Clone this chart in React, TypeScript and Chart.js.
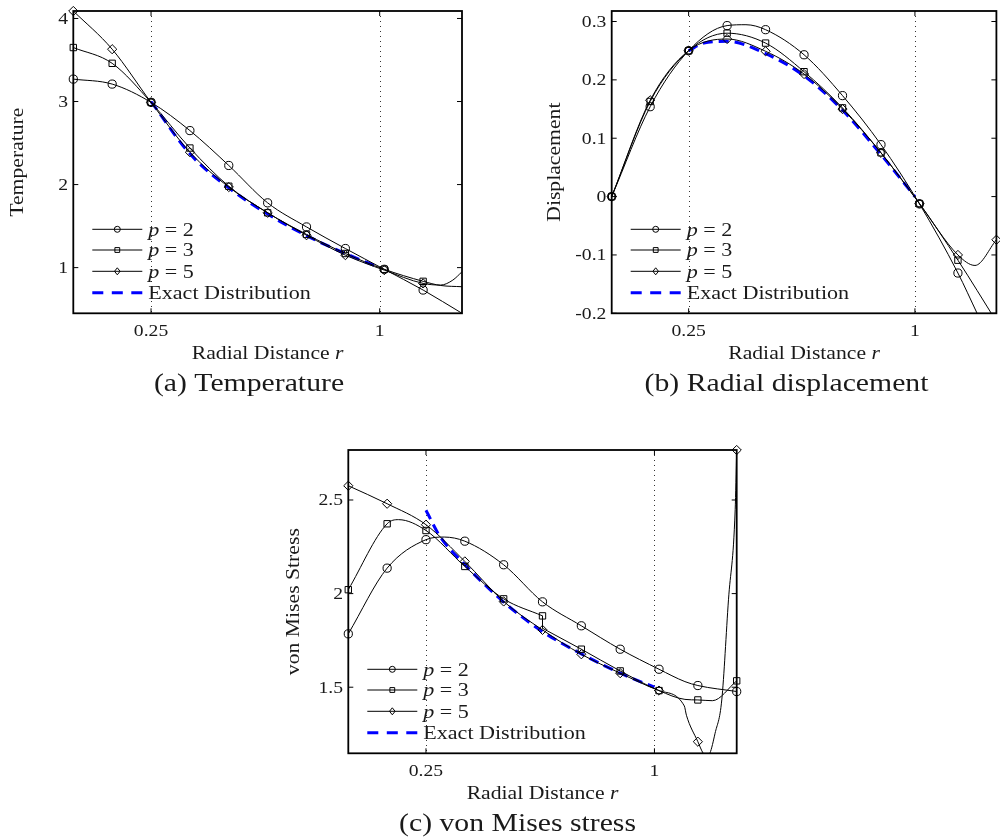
import React, { useEffect, useRef } from 'react';
import { Chart, registerables } from 'chart.js';

Chart.register(...registerables);

const FONT = "'Liberation Serif', 'Times New Roman', serif";
const INK = '#000000';
const TEXT_INK = '#1a1a1a';
const EXACT_BLUE = '#0000ff';

// x axis (radial distance)
const X_MIN = -0.005;
const X_MAX = 1.27;
const X_TICKS = [0.25, 1];
const X_TICK_LABELS = ['0.25', '1'];
// radial positions of the plotted markers
const R_MARK = [-0.005, 0.1225, 0.25, 0.3775, 0.505, 0.6325, 0.76, 0.8875, 1.015, 1.1425, 1.27];

const LEGEND_LABELS = ['p = 2', 'p = 3', 'p = 5', 'Exact Distribution'];

// (a) Temperature
const TEMP_Y_TICKS = [1, 2, 3, 4];
const TEMP_P2 = [3.27, 3.21, 2.99, 2.65, 2.23, 1.78, 1.49, 1.23, 0.98, 0.73];
const TEMP_P2_EXTRA = [[1.27, 0.45]];
const TEMP_P3 = [3.65, 3.46, 2.99, 2.44, 1.98, 1.66, 1.4, 1.17, 0.98, 0.835];
const TEMP_P3_EXTRA = [[1.2, 0.785], [1.27, 0.77]];
const TEMP_P5 = [4.09, 3.63, 2.99, 2.39, 1.97, 1.66, 1.39, 1.15, 0.97, 0.81];
const TEMP_P5_EXTRA = [[1.2, 0.79], [1.24, 0.85], [1.27, 0.95]];
const TEMP_EXACT_R = [0.25, 0.3775, 0.505, 0.6325, 0.76, 0.8875, 1.0];
const TEMP_EXACT = [3.0, 2.37, 1.96, 1.645, 1.385, 1.17, 1.0];

// (b) Radial displacement
const DISP_Y_TICKS = [-0.2, -0.1, 0, 0.1, 0.2, 0.3];
const DISP_Y_LABELS = ['-0.2', '-0.1', '0', '0.1', '0.2', '0.3'];
const DISP_P2 = [0, 0.154, 0.25, 0.293, 0.286, 0.243, 0.173, 0.089, -0.0125, -0.131];
const DISP_P2_EXTRA = [[0.44, 0.2945], [1.206, -0.2], [1.27, -0.27]];
const DISP_P3 = [0, 0.163, 0.25, 0.28, 0.263, 0.214, 0.152, 0.075, -0.012, -0.109];
const DISP_P3_EXTRA = [[1.27, -0.214]];
const DISP_P5 = [0, 0.165, 0.25, 0.27, 0.249, 0.21, 0.15, 0.075, -0.012, -0.1, -0.074];
const DISP_P5_EXTRA = [[1.199, -0.118]];
const DISP_EXACT_R = [0.25, 0.3, 0.3775, 0.505, 0.6325, 0.76, 0.8875, 1.0];
const DISP_EXACT = [0.25, 0.263, 0.266, 0.245, 0.207, 0.148, 0.072, 0.0];

// (c) von Mises stress
const VM_Y_TICKS = [1.5, 2, 2.5];
const VM_P2 = [1.785, 2.136, 2.288, 2.28, 2.154, 1.956, 1.828, 1.703, 1.596, 1.509, 1.477];
const VM_P2_EXTRA = [[0.31, 2.302], [1.1, 1.53]];
const VM_P3 = [2.021, 2.373, 2.337, 2.145, 1.972, 1.881, 1.703, 1.587, 1.482, 1.432, 1.534];
const VM_P3_JUMP = 1.815; // value just after the step at the 6th marker
const VM_P3_EXTRA = [[0.16, 2.395], [1.1, 1.435], [1.19, 1.428]];
const VM_P5 = [2.576, 2.48, 2.368, 2.172, 1.958, 1.806, 1.676, 1.575, 1.482, 1.209, 2.767];
const VM_P5_EXTRA = [
  [1.098, 1.4], [1.105, 1.35], [1.16, 1.147], [1.171, 1.13], [1.182, 1.147],
  [1.199, 1.254], [1.221, 1.432], [1.243, 1.967], [1.265, 2.448],
];
const VM_EXACT_R = [0.25, 0.296, 0.3726, 0.505, 0.6325, 0.76, 0.8875, 1.0];
const VM_EXACT = [2.445, 2.305, 2.163, 1.955, 1.797, 1.678, 1.575, 1.5];

type Pt = { x: number; y: number };

function markerPts(vals: number[], from = 0, to = vals.length - 1): Pt[] {
  const out: Pt[] = [];
  for (let i = from; i <= to; i++) out.push({ x: R_MARK[i], y: vals[i] });
  return out;
}
function curvePts(vals: number[], extra: number[][], from = 0, to = vals.length - 1): Pt[] {
  const out = markerPts(vals, from, to);
  for (const [x, y] of extra) out.push({ x, y });
  return out.sort((a, b) => a.x - b.x);
}
function pairPts(xs: number[], ys: number[]): Pt[] {
  return ys.map((y, i) => ({ x: xs[i], y }));
}

const MARKER_STYLES = ['circle', 'rect', 'rectRot'];
const MARKER_RADII = [4.1, 4.5, 4.6];

function lineDs(data: Pt[]) {
  return {
    data,
    borderColor: INK,
    borderWidth: 1,
    pointRadius: 0,
    tension: 0.4,
    cubicInterpolationMode: 'monotone',
    fill: false,
  };
}
function markDs(data: Pt[], k: number) {
  return {
    data,
    showLine: false,
    pointStyle: MARKER_STYLES[k],
    pointRadius: MARKER_RADII[k],
    pointBorderWidth: 1,
    pointBorderColor: INK,
    pointBackgroundColor: 'rgba(0,0,0,0)',
    clip: false,
  };
}
function exactDs(data: Pt[]) {
  return {
    data,
    borderColor: EXACT_BLUE,
    borderWidth: 3,
    borderDash: [10, 6],
    pointRadius: 0,
    tension: 0.4,
    cubicInterpolationMode: 'monotone',
    fill: false,
  };
}

type Panel = {
  key: string;
  left: number; top: number; width: number; height: number;
  L: number; T: number; R: number; B: number;
  yMin: number; yMax: number; yTicks: number[]; yLabels: string[];
  yTitle: string; yTitleX: number;
  caption: string; captionX: number; captionY: number;
  datasets: any[];
};

const R5 = R_MARK[5];

const PANELS: Panel[] = [
  {
    key: 'a', left: 0, top: 0, width: 500, height: 400,
    L: 73.3, T: 11, R: 462, B: 313.3,
    yMin: 0.45, yMax: 4.09, yTicks: TEMP_Y_TICKS, yLabels: TEMP_Y_TICKS.map(String),
    yTitle: 'Temperature', yTitleX: 22.5,
    caption: '(a) Temperature', captionX: 249, captionY: 390.7,
    datasets: [
      markDs(markerPts(TEMP_P2), 0),
      markDs(markerPts(TEMP_P3), 1),
      markDs(markerPts(TEMP_P5), 2),
      lineDs(curvePts(TEMP_P2, TEMP_P2_EXTRA)),
      lineDs(curvePts(TEMP_P3, TEMP_P3_EXTRA)),
      lineDs(curvePts(TEMP_P5, TEMP_P5_EXTRA)),
      exactDs(pairPts(TEMP_EXACT_R, TEMP_EXACT)),
    ],
  },
  {
    key: 'b', left: 530, top: 0, width: 472, height: 400,
    L: 81.7, T: 11, R: 470.7, B: 313.3,
    yMin: -0.2, yMax: 0.318, yTicks: DISP_Y_TICKS, yLabels: DISP_Y_LABELS,
    yTitle: 'Displacement', yTitleX: 29.5,
    caption: '(b) Radial displacement', captionX: 256.5, captionY: 390.7,
    datasets: [
      markDs(markerPts(DISP_P2), 0),
      markDs(markerPts(DISP_P3), 1),
      markDs(markerPts(DISP_P5), 2),
      lineDs(curvePts(DISP_P2, DISP_P2_EXTRA)),
      lineDs(curvePts(DISP_P3, DISP_P3_EXTRA)),
      lineDs(curvePts(DISP_P5, DISP_P5_EXTRA)),
      exactDs(pairPts(DISP_EXACT_R, DISP_EXACT)),
    ],
  },
  {
    key: 'c', left: 270, top: 440, width: 480, height: 398,
    L: 78.3, T: 10, R: 466.7, B: 313.3,
    yMin: 1.147, yMax: 2.767, yTicks: VM_Y_TICKS, yLabels: VM_Y_TICKS.map(String),
    yTitle: 'von Mises Stress', yTitleX: 29,
    caption: '(c) von Mises stress', captionX: 247.5, captionY: 390.7,
    datasets: [
      markDs(markerPts(VM_P2), 0),
      markDs(markerPts(VM_P3), 1),
      markDs(markerPts(VM_P5), 2),
      lineDs(curvePts(VM_P2, VM_P2_EXTRA)),
      lineDs(curvePts(VM_P3, VM_P3_EXTRA.filter((e) => e[0] < R5), 0, 5)),
      { ...lineDs([{ x: R5, y: VM_P3[5] }, { x: R5, y: VM_P3_JUMP }]), tension: 0, cubicInterpolationMode: 'default' },
      lineDs([{ x: R5, y: VM_P3_JUMP }, ...curvePts(VM_P3, VM_P3_EXTRA.filter((e) => e[0] > R5), 6, 10)]),
      lineDs(curvePts(VM_P5, VM_P5_EXTRA)),
      exactDs(pairPts(VM_EXACT_R, VM_EXACT)),
    ],
  },
];

function drawText(
  ctx: CanvasRenderingContext2D,
  parts: { t: string; it?: boolean }[],
  x: number, y: number, size: number, stretch: number,
  align: 'left' | 'center' | 'right', rotate = false,
) {
  ctx.save();
  ctx.translate(x, y);
  if (rotate) ctx.rotate(-Math.PI / 2);
  ctx.scale(stretch, 1);
  ctx.fillStyle = TEXT_INK;
  ctx.textBaseline = 'alphabetic';
  ctx.textAlign = 'left';
  let total = 0;
  const widths = parts.map((p) => {
    ctx.font = `${p.it ? 'italic ' : ''}${size}px ${FONT}`;
    const w = ctx.measureText(p.t).width;
    total += w;
    return w;
  });
  let cx = align === 'left' ? 0 : align === 'center' ? -total / 2 : -total;
  parts.forEach((p, i) => {
    ctx.font = `${p.it ? 'italic ' : ''}${size}px ${FONT}`;
    ctx.fillText(p.t, cx, 0);
    cx += widths[i];
  });
  ctx.restore();
}

function drawLegendMarker(ctx: CanvasRenderingContext2D, k: number, x: number, y: number) {
  ctx.beginPath();
  if (k === 0) ctx.arc(x, y, 3, 0, Math.PI * 2);
  else if (k === 1) ctx.rect(x - 2.4, y - 2.4, 4.8, 4.8);
  else {
    ctx.moveTo(x, y - 3.5);
    ctx.lineTo(x + 2.8, y);
    ctx.lineTo(x, y + 3.5);
    ctx.lineTo(x - 2.8, y);
    ctx.closePath();
  }
  ctx.stroke();
}

function framePlugin(p: Panel) {
  return {
    id: 'frame_' + p.key,
    beforeDatasetsDraw(chart: any) {
      const { ctx, chartArea: a, scales } = chart;
      ctx.save();
      ctx.strokeStyle = 'rgba(0,0,0,0.8)';
      ctx.lineWidth = 1;
      ctx.setLineDash([1, 4]);
      for (const v of X_TICKS) {
        const px = Math.round(scales.x.getPixelForValue(v)) + 0.5;
        ctx.beginPath();
        ctx.moveTo(px, a.top);
        ctx.lineTo(px, a.bottom);
        ctx.stroke();
      }
      ctx.restore();
    },
    afterDraw(chart: any) {
      const { ctx, chartArea: a, scales } = chart;
      ctx.save();
      // box
      ctx.strokeStyle = INK;
      ctx.lineWidth = 1.8;
      ctx.strokeRect(a.left, a.top, a.right - a.left, a.bottom - a.top);
      // inward ticks
      ctx.lineWidth = 1;
      const TL = 5;
      p.yTicks.forEach((v, i) => {
        const py = scales.y.getPixelForValue(v);
        ctx.beginPath();
        ctx.moveTo(a.left, py);
        ctx.lineTo(a.left + TL, py);
        ctx.moveTo(a.right, py);
        ctx.lineTo(a.right - TL, py);
        ctx.stroke();
        drawText(ctx, [{ t: p.yLabels[i] }], a.left - 5.3, py + 5.5, 16.5, 1.19, 'right');
      });
      X_TICKS.forEach((v, i) => {
        const px = scales.x.getPixelForValue(v);
        ctx.beginPath();
        ctx.moveTo(px, a.bottom);
        ctx.lineTo(px, a.bottom - TL);
        ctx.moveTo(px, a.top);
        ctx.lineTo(px, a.top + TL);
        ctx.stroke();
        drawText(ctx, [{ t: X_TICK_LABELS[i] }], px, a.bottom + 22.5, 16.5, 1.19, 'center');
      });
      // axis titles
      drawText(ctx, [{ t: 'Radial Distance ' }, { t: 'r', it: true }], (a.left + a.right) / 2, a.bottom + 46, 19.2, 1.13, 'center');
      drawText(ctx, [{ t: p.yTitle }], p.yTitleX, (a.top + a.bottom) / 2, 19.2, 1.13, 'center', true);
      // legend
      const rows = [84, 63.3, 42, 20.6];
      rows.forEach((off, k) => {
        const y = a.bottom - off;
        const x0 = a.left + 19;
        const x1 = a.left + 69;
        ctx.save();
        if (k < 3) {
          ctx.strokeStyle = INK;
          ctx.lineWidth = 1;
          ctx.beginPath();
          ctx.moveTo(x0, y);
          ctx.lineTo(x1, y);
          ctx.stroke();
          drawLegendMarker(ctx, k, a.left + 44, y);
          const num = LEGEND_LABELS[k].slice(1);
          drawText(ctx, [{ t: LEGEND_LABELS[k][0], it: true }, { t: num }], a.left + 75, y + 6.3, 19.2, 1.15, 'left');
        } else {
          ctx.strokeStyle = EXACT_BLUE;
          ctx.lineWidth = 3;
          ctx.setLineDash([11, 8.5]);
          ctx.beginPath();
          ctx.moveTo(x0, y);
          ctx.lineTo(x1, y);
          ctx.stroke();
          drawText(ctx, [{ t: LEGEND_LABELS[k] }], a.left + 75, y + 6.3, 19.2, 1.15, 'left');
        }
        ctx.restore();
      });
      // caption
      drawText(ctx, [{ t: p.caption }], p.captionX, p.captionY, 25.2, 1.18, 'center');
      ctx.restore();
    },
  };
}

function PanelChart({ panel }: { panel: Panel }) {
  const ref = useRef<HTMLCanvasElement>(null);
  useEffect(() => {
    const chart = new Chart(ref.current as HTMLCanvasElement, {
      type: 'line',
      data: { datasets: panel.datasets },
      options: {
        responsive: false,
        animation: false,
        events: [],
        layout: {
          padding: {
            left: panel.L,
            top: panel.T,
            right: panel.width - panel.R,
            bottom: panel.height - panel.B,
          },
        },
        scales: {
          x: { type: 'linear', display: false, min: X_MIN, max: X_MAX },
          y: { type: 'linear', display: false, min: panel.yMin, max: panel.yMax },
        },
        plugins: { legend: { display: false }, tooltip: { enabled: false } },
      } as any,
      plugins: [framePlugin(panel) as any],
    });
    return () => chart.destroy();
  }, [panel]);
  return (
    <canvas
      ref={ref}
      width={panel.width}
      height={panel.height}
      style={{
        position: 'absolute',
        left: panel.left,
        top: panel.top,
        width: panel.width,
        height: panel.height,
      }}
    />
  );
}

export default function App() {
  return (
    <div
      style={{
        position: 'absolute',
        left: 0,
        top: 0,
        width: 1000,
        height: 838,
        overflow: 'hidden',
        background: '#fff',
      }}
    >
      {PANELS.map((p) => (
        <PanelChart key={p.key} panel={p} />
      ))}
    </div>
  );
}
